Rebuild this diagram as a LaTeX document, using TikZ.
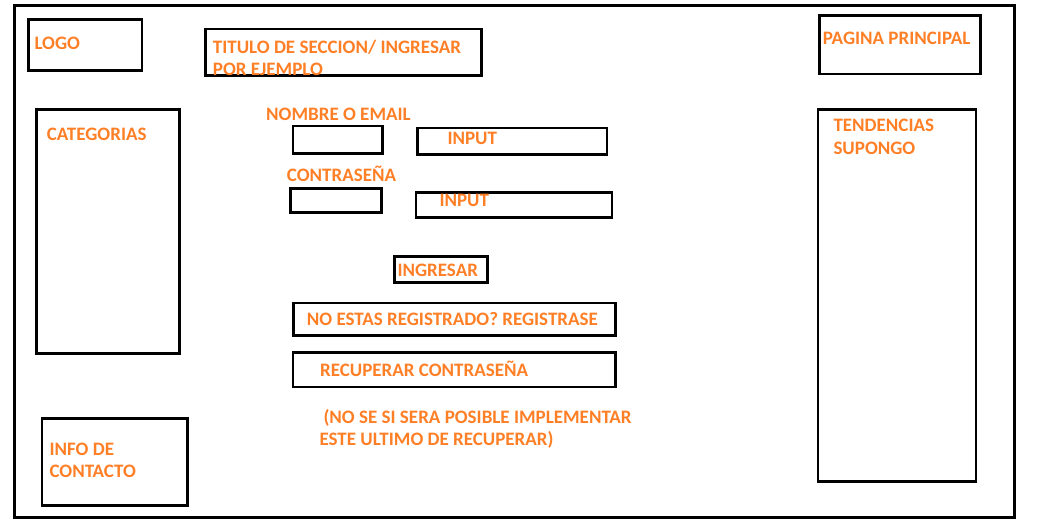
\documentclass[tikz,border=0pt]{standalone}
\usepackage{fontspec}
\setmainfont{Carlito}
\definecolor{paintorange}{HTML}{FF7F27}

\begin{document}
\begin{tikzpicture}[x=1pt,y=-1pt,line join=miter,
    box/.style={draw=black,line width=2.7pt},
    tag/.style={text=paintorange,font=\fontsize{19}{22.5}\selectfont\bfseries,
      anchor=base west,inner sep=0pt,align=left}]
  \path[use as bounding box] (0,0) rectangle (1042,531);

  % Page frame and the fixed blocks round the form.
  \draw[box] (14.7,5.7) rectangle (1014.2,517.8);
  \draw[box] (28.7,19.7) rectangle (142,70.7);
  \draw[box] (205.7,29) rectangle (481.3,75.7);
  \draw[box] (819.7,15.7) rectangle (980.3,74);
  \draw[box] (36.3,109.7) rectangle (179.3,353.7);
  \draw[box] (818,109.7) rectangle (976,481.3);
  \draw[box] (42,418.7) rectangle (187.3,505.3);

  % Login form: two fields, then the three buttons.
  \draw[box] (293,126) rectangle (382.3,153.3);
  \draw[box] (417.7,128) rectangle (607,154.7);
  \draw[box] (290.7,188.7) rectangle (381.3,212.3);
  \draw[box] (416,192.7) rectangle (612,217.3);
  \draw[box] (394.7,256.7) rectangle (487.3,282.7);
  \draw[box] (293.7,303) rectangle (615.3,335.3);
  \draw[box] (293,352.3) rectangle (615.3,387);

  % Labels sit on top of the black lines (two-line labels: base is the last line).
  \node[tag] (logo) at (34.3,49) {LOGO};
  \node[tag] (titulo) at (212.7,75.8) {TITULO DE SECCION/ INGRESAR\\POR EJEMPLO};
  \node[tag] (inicio) at (822.7,44) {PAGINA PRINCIPAL};
  \node[tag] (categorias) at (46.7,140) {CATEGORIAS};
  \node[tag] (tendencias) at (833.3,154.2) {TENDENCIAS\\SUPONGO};
  \node[tag] (contacto) at (49.3,477.5) {INFO DE\\CONTACTO};
  \node[tag] (usuario) at (266,120.7) {NOMBRE O EMAIL};
  \node[tag] (input1) at (447.3,144) {INPUT};
  \node[tag] (clave) at (286.7,181.7) {CONTRASEÑA};
  \node[tag] (input2) at (439.3,206.7) {INPUT};
  \node[tag] (ingresar) at (397.3,276) {INGRESAR};
  \node[tag] (registro) at (306.7,325) {NO ESTAS REGISTRADO? REGISTRASE};
  \node[tag] (recuperar) at (320,376.7) {RECUPERAR CONTRASEÑA};
  \node[tag] (nota) at (323.3,445.8)
    {(NO SE SI SERA POSIBLE IMPLEMENTAR\\\hspace*{-4pt}ESTE ULTIMO DE RECUPERAR)};
\end{tikzpicture}
\end{document}
